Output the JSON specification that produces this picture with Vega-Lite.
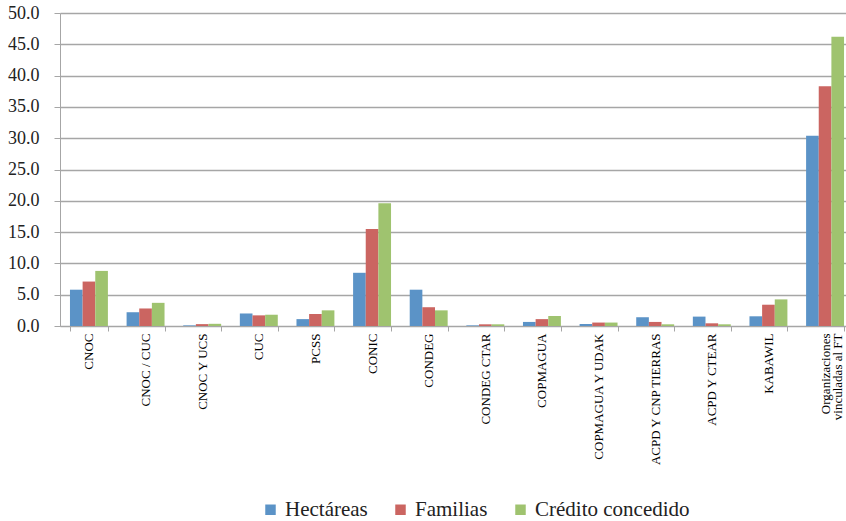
{
  "$schema": "https://vega.github.io/schema/vega-lite/v6.json",
  "autosize": {"type": "none"},
  "width": 794,
  "height": 313,
  "padding": {"left": 60, "top": 13, "right": 0, "bottom": 195},
  "background": "white",
  "config": {
    "font": "Liberation Serif",
    "view": {"stroke": null}
  },
  "data": {
    "values": [
      {"org": "CNOC", "serie": "Hectáreas", "valor": 5.8},
      {"org": "CNOC", "serie": "Familias", "valor": 7.1},
      {"org": "CNOC", "serie": "Crédito concedido", "valor": 8.8},
      {"org": "CNOC / CUC", "serie": "Hectáreas", "valor": 2.2},
      {"org": "CNOC / CUC", "serie": "Familias", "valor": 2.8},
      {"org": "CNOC / CUC", "serie": "Crédito concedido", "valor": 3.7},
      {"org": "CNOC Y UCS", "serie": "Hectáreas", "valor": 0.1},
      {"org": "CNOC Y UCS", "serie": "Familias", "valor": 0.3},
      {"org": "CNOC Y UCS", "serie": "Crédito concedido", "valor": 0.35},
      {"org": "CUC", "serie": "Hectáreas", "valor": 2.0},
      {"org": "CUC", "serie": "Familias", "valor": 1.7},
      {"org": "CUC", "serie": "Crédito concedido", "valor": 1.8},
      {"org": "PCSS", "serie": "Hectáreas", "valor": 1.1},
      {"org": "PCSS", "serie": "Familias", "valor": 1.9},
      {"org": "PCSS", "serie": "Crédito concedido", "valor": 2.5},
      {"org": "CONIC", "serie": "Hectáreas", "valor": 8.5},
      {"org": "CONIC", "serie": "Familias", "valor": 15.5},
      {"org": "CONIC", "serie": "Crédito concedido", "valor": 19.6},
      {"org": "CONDEG", "serie": "Hectáreas", "valor": 5.8},
      {"org": "CONDEG", "serie": "Familias", "valor": 3.0},
      {"org": "CONDEG", "serie": "Crédito concedido", "valor": 2.5},
      {"org": "CONDEG  CTAR", "serie": "Hectáreas", "valor": 0.1},
      {"org": "CONDEG  CTAR", "serie": "Familias", "valor": 0.27},
      {"org": "CONDEG  CTAR", "serie": "Crédito concedido", "valor": 0.27},
      {"org": "COPMAGUA", "serie": "Hectáreas", "valor": 0.65},
      {"org": "COPMAGUA", "serie": "Familias", "valor": 1.1},
      {"org": "COPMAGUA", "serie": "Crédito concedido", "valor": 1.6},
      {"org": "COPMAGUA Y UDAK", "serie": "Hectáreas", "valor": 0.32},
      {"org": "COPMAGUA Y UDAK", "serie": "Familias", "valor": 0.55},
      {"org": "COPMAGUA Y UDAK", "serie": "Crédito concedido", "valor": 0.55},
      {"org": "ACPD Y CNP TIERRAS", "serie": "Hectáreas", "valor": 1.4},
      {"org": "ACPD Y CNP TIERRAS", "serie": "Familias", "valor": 0.65},
      {"org": "ACPD Y CNP TIERRAS", "serie": "Crédito concedido", "valor": 0.27},
      {"org": "ACPD Y CTEAR", "serie": "Hectáreas", "valor": 1.5},
      {"org": "ACPD Y CTEAR", "serie": "Familias", "valor": 0.43},
      {"org": "ACPD Y CTEAR", "serie": "Crédito concedido", "valor": 0.27},
      {"org": "KABAWIL", "serie": "Hectáreas", "valor": 1.55},
      {"org": "KABAWIL", "serie": "Familias", "valor": 3.4},
      {"org": "KABAWIL", "serie": "Crédito concedido", "valor": 4.25},
      {"org": "Organizaciones vinculadas al FT", "serie": "Hectáreas", "valor": 30.4},
      {"org": "Organizaciones vinculadas al FT", "serie": "Familias", "valor": 38.3},
      {"org": "Organizaciones vinculadas al FT", "serie": "Crédito concedido", "valor": 46.2}
    ]
  },
  "mark": {"type": "bar"},
  "encoding": {
    "x": {
      "field": "org",
      "type": "nominal",
      "sort": null,
      "title": null,
      "scale": {"paddingInner": 0.33, "paddingOuter": 0.176},
      "axis": {
        "labelAngle": -90,
        "labelAlign": "right",
        "labelBaseline": "middle",
        "labelFont": "Liberation Serif",
        "labelFontSize": 13,
        "labelLineHeight": 12,
        "labelColor": "#000000",
        "labelPadding": 2,
        "labelLimit": 200,
        "labelExpr": "datum.label == 'Organizaciones vinculadas al FT' ? ['Organizaciones', 'vinculadas al FT'] : datum.label",
        "tickBand": "extent",
        "tickSize": 5,
        "tickColor": "#a6a6a6",
        "domainColor": "#a6a6a6",
        "grid": false
      }
    },
    "xOffset": {
      "field": "serie",
      "type": "nominal",
      "sort": ["Hectáreas", "Familias", "Crédito concedido"]
    },
    "y": {
      "field": "valor",
      "type": "quantitative",
      "title": null,
      "scale": {"domain": [0, 50]},
      "axis": {
        "values": [0, 5, 10, 15, 20, 25, 30, 35, 40, 45, 50],
        "format": ".1f",
        "labelFont": "Liberation Serif",
        "labelFontSize": 18,
        "labelColor": "#222222",
        "labelPadding": 15,
        "tickSize": 6,
        "tickColor": "#a6a6a6",
        "domainColor": "#a6a6a6",
        "gridColor": "#a6a6a6",
        "gridWidth": 1.3
      }
    },
    "color": {
      "field": "serie",
      "type": "nominal",
      "sort": ["Hectáreas", "Familias", "Crédito concedido"],
      "scale": {
        "domain": ["Hectáreas", "Familias", "Crédito concedido"],
        "range": ["#5b93c7", "#cb6561", "#9fc36f"]
      },
      "legend": {
        "title": null,
        "orient": "none",
        "direction": "horizontal",
        "legendX": 200,
        "legendY": 486,
        "symbolType": "square",
        "symbolSize": 110,
        "symbolStrokeWidth": 0,
        "labelFont": "Liberation Serif",
        "labelFontSize": 21,
        "labelColor": "#222222",
        "labelLimit": 300,
        "columnPadding": 22,
        "labelOffset": 4
      }
    }
  }
}
